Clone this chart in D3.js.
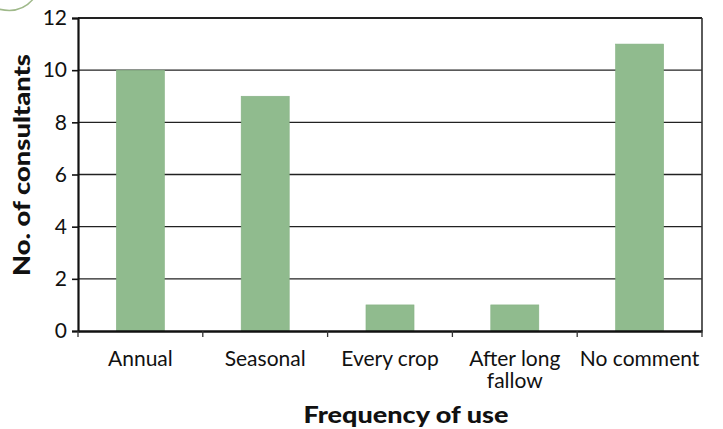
<!DOCTYPE html>
<html><head><meta charset="utf-8">
<script src="https://cdn.jsdelivr.net/npm/d3@7"></script>
<style>body{margin:0;background:#fff}svg{display:block}</style>
</head><body><svg id="c" width="723" height="429"></svg>
<script>
const categories = ["Annual", "Seasonal", "Every crop", "After long|fallow", "No comment"];
const values = [10, 9, 1, 1, 11];
const yTicks = [0, 2, 4, 6, 8, 10, 12];
const xTitle = "Frequency of use";
const yTitle = "No. of consultants";

const svg = d3.select("#c");
const m = {l: 78, r: 702, t: 18, b: 331};
const font = "Lato, 'Open Sans', sans-serif";

const x = d3.scaleBand().domain(categories).range([m.l, m.r]).padding(0);
const y = d3.scaleLinear().domain([0, 12]).range([m.b, m.t]);

// decorative arc top-left
svg.append("path").attr("d", "M -5 8 Q 20 16 34 -2").attr("fill", "none")
  .attr("stroke", "#9fb98a").attr("stroke-width", 1.5);

// gridlines
svg.append("g").selectAll("line").data(yTicks.filter(d => d > 0)).join("line")
  .attr("x1", m.l).attr("x2", m.r).attr("y1", d => y(d)).attr("y2", d => y(d))
  .attr("stroke", "#222").attr("stroke-width", d => d === 12 ? 2 : 1.4);

// right border
svg.append("line").attr("x1", m.r).attr("x2", m.r).attr("y1", m.t).attr("y2", m.b)
  .attr("stroke", "#333").attr("stroke-width", 1.6);

// bars
const bw = x.bandwidth() * 0.385;
svg.append("g").selectAll("rect").data(values).join("rect")
  .attr("x", (d, i) => x(categories[i]) + x.bandwidth() / 2 - bw / 2)
  .attr("width", bw)
  .attr("y", d => y(d)).attr("height", d => y(0) - y(d))
  .attr("fill", "#90bb8e").attr("stroke", "#86b184").attr("stroke-width", 0.6);

// y axis
const ya = svg.append("g").attr("transform", `translate(${m.l},0)`)
  .call(d3.axisLeft(y).tickValues(yTicks).tickSize(6).tickPadding(5));
ya.select(".domain").attr("stroke", "#111").attr("stroke-width", 2.2);
ya.selectAll(".tick line").attr("stroke", "#111").attr("stroke-width", 1.6);
ya.selectAll("text").attr("font-family", font).attr("font-size", 21).attr("fill", "#111");

// x axis
const xa = svg.append("g").attr("transform", `translate(0,${m.b})`)
  .call(d3.axisBottom(x).tickSize(0).tickFormat(""));
xa.select(".domain").attr("stroke", "#111").attr("stroke-width", 2.4);
svg.append("g").selectAll("line").data(categories.concat(["_end"])).join("line")
  .attr("x1", (d, i) => i < categories.length ? x(d) : m.r)
  .attr("x2", (d, i) => i < categories.length ? x(d) : m.r)
  .attr("y1", m.b).attr("y2", m.b + 6).attr("stroke", "#333").attr("stroke-width", 1.3);

// category labels
const lab = svg.append("g").selectAll("text").data(categories).join("text")
  .attr("text-anchor", "middle").attr("font-family", font).attr("font-size", 21).attr("fill", "#111");
lab.each(function(d) {
  const parts = d.split("|");
  const t = d3.select(this);
  parts.forEach((p, i) => t.append("tspan")
    .attr("x", x(d) + x.bandwidth() / 2).attr("y", 366 + i * 22).text(p));
});

// titles
svg.append("text").attr("x", 406).attr("y", 423).attr("text-anchor", "middle")
  .attr("font-family", font).attr("font-weight", 900).attr("font-size", 22)
  .attr("textLength", 205).attr("lengthAdjust", "spacingAndGlyphs")
  .attr("fill", "#111").text(xTitle);
svg.append("text").attr("transform", "translate(30,165) rotate(-90)").attr("text-anchor", "middle")
  .attr("font-family", font).attr("font-weight", 900).attr("font-size", 23)
  .attr("textLength", 222).attr("lengthAdjust", "spacingAndGlyphs")
  .attr("fill", "#111").text(yTitle);
</script></body></html>
